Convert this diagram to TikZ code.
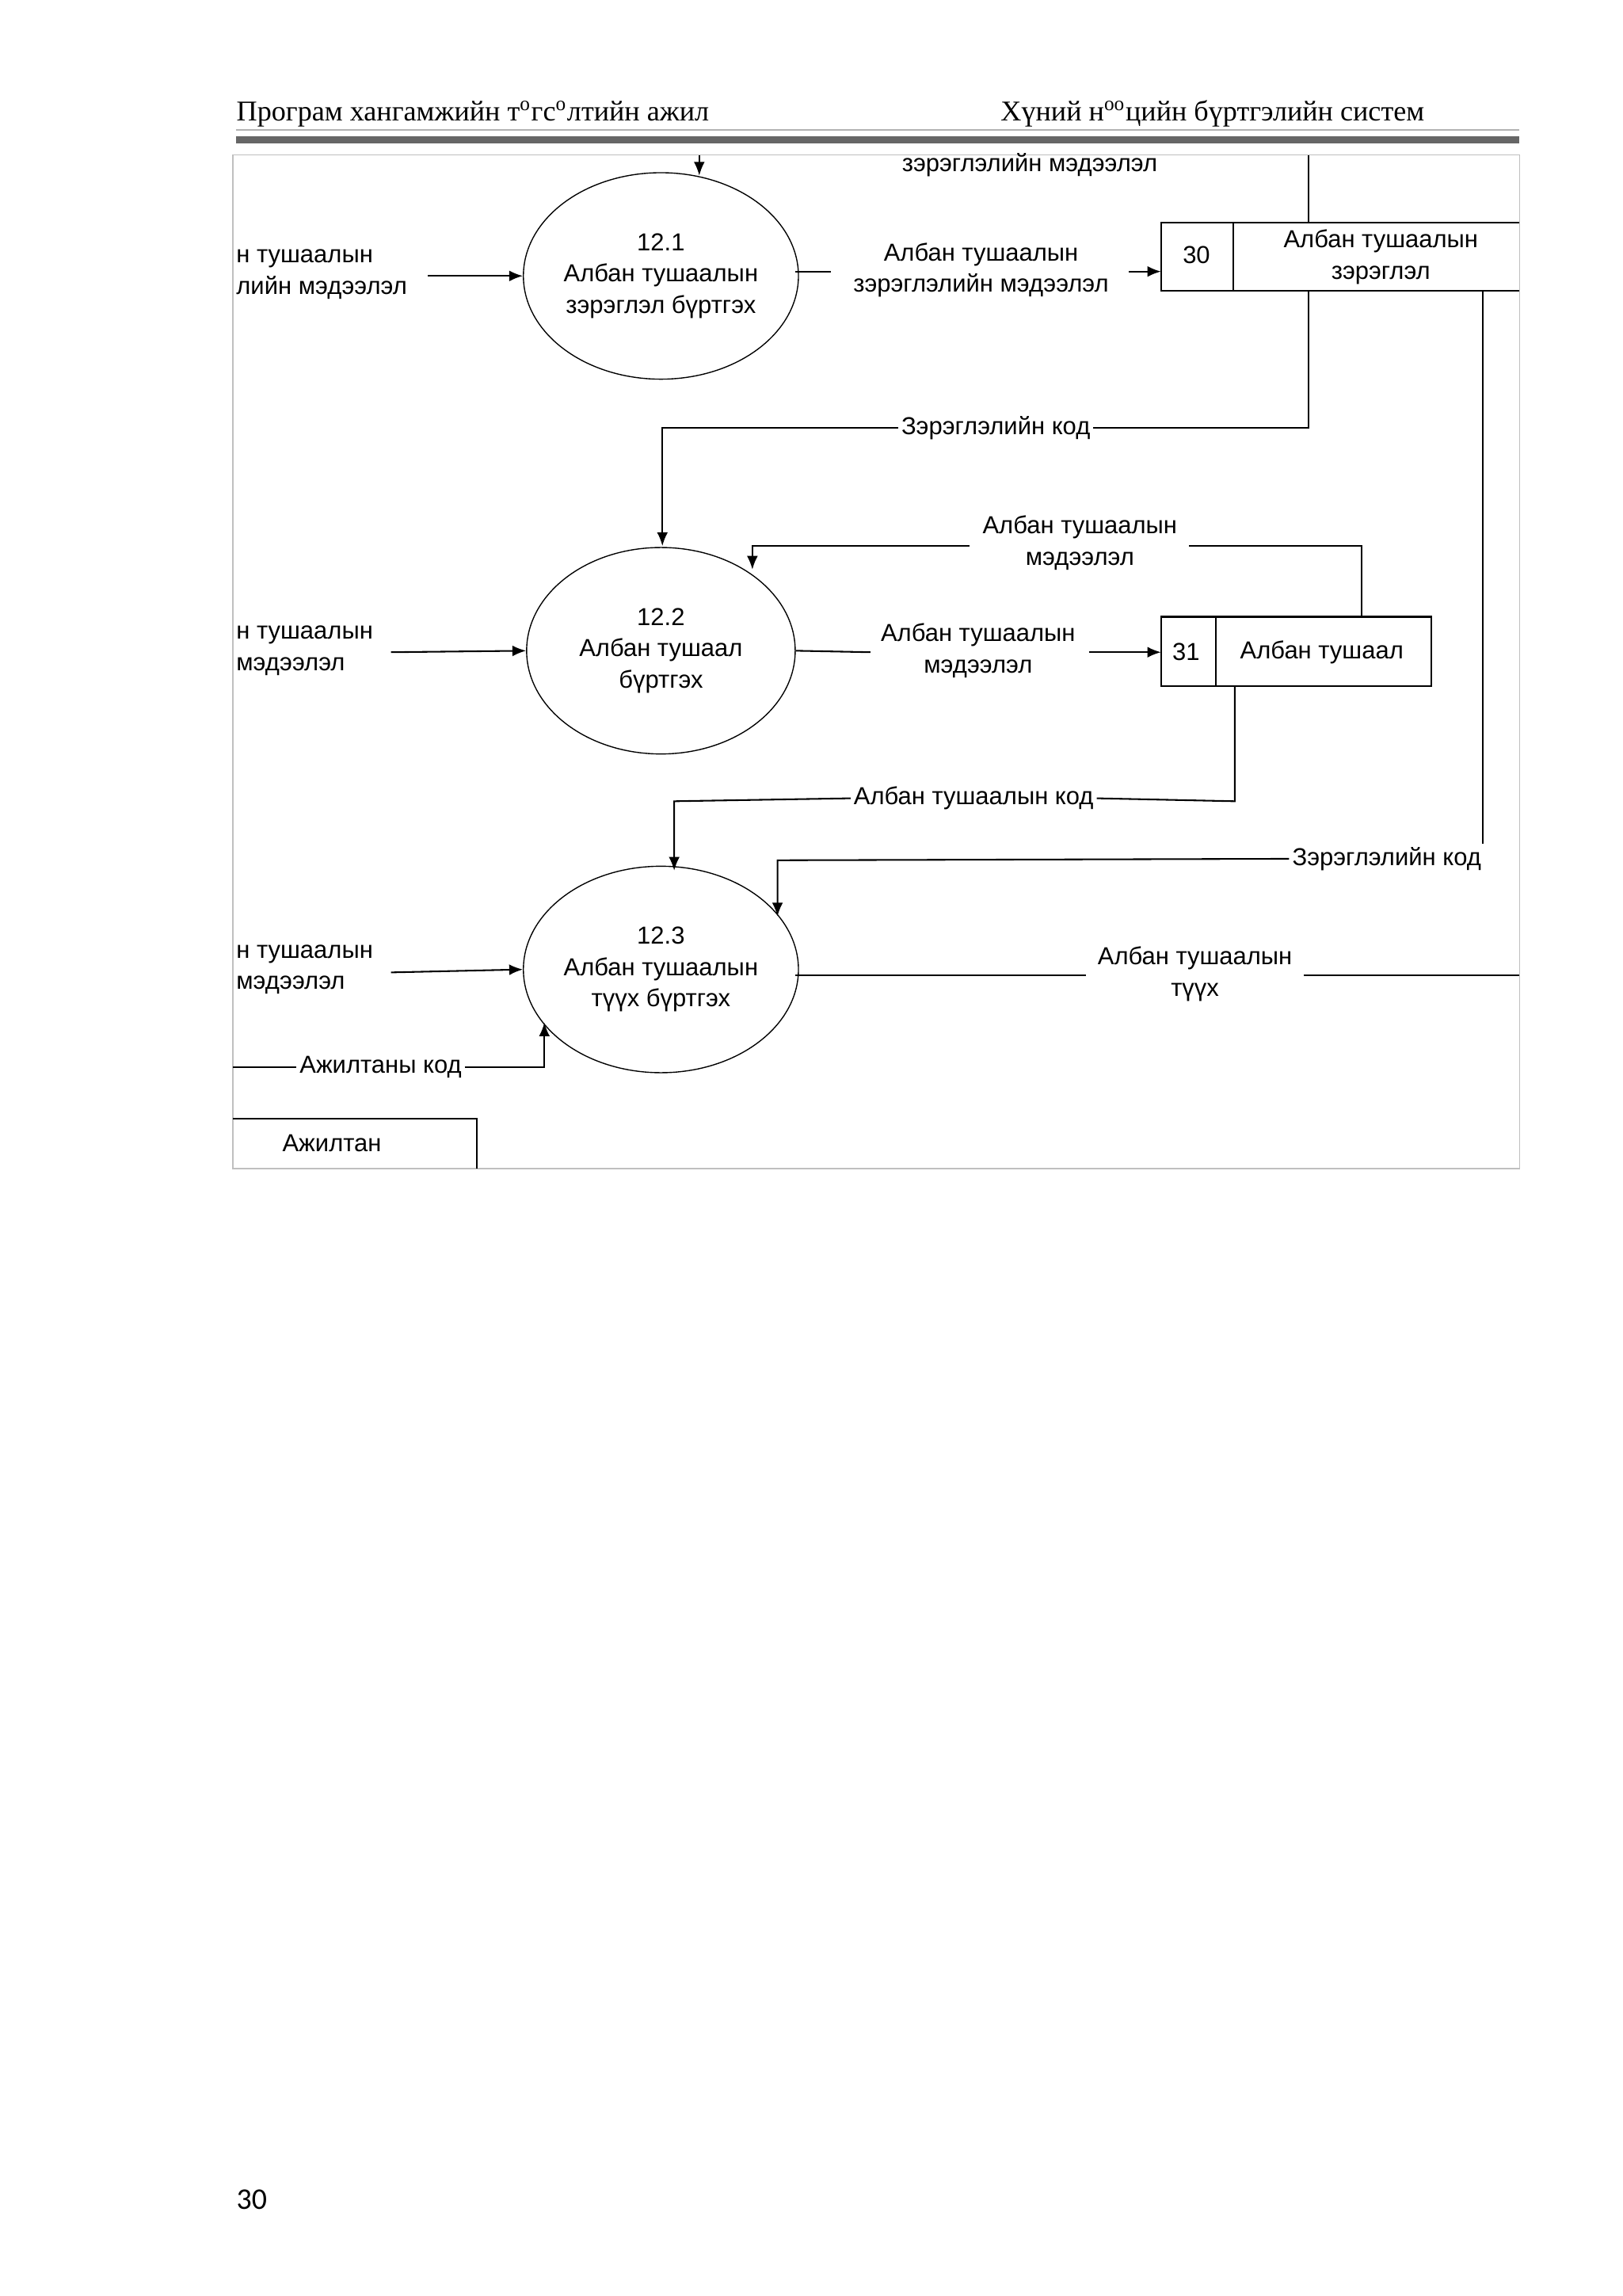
\documentclass[tikz,border=0pt]{standalone}
\usepackage{fontspec}
\setmainfont{Liberation Serif}
\newfontfamily\dsans{Liberation Sans}
\newfontfamily\pnum{Carlito}
\usetikzlibrary{arrows.meta,shapes.geometric}
\begin{document}
\begin{tikzpicture}[x=0.541pt,y=-0.541pt,
  proc/.style={draw,ellipse,minimum width=98.5pt,minimum height=75.7pt,inner sep=0pt,align=center,font=\dsans\fontsize{9}{11.5}\selectfont},
  lbl/.style={font=\dsans\fontsize{9}{11.5}\selectfont,align=center,inner sep=1pt},
  flow/.style={-{Latex[length=5pt,width=4pt]},line width=0.6pt},
  ln/.style={line width=0.6pt}]
\useasboundingbox[fill=white] (0,0) rectangle (1100,1556);
% header
\node[anchor=base west,font=\fontsize{10.5}{12}\selectfont,inner sep=0] (h1) at (160,82) {Програм хангамжийн т\textsuperscript{o}гс\textsuperscript{o}лтийн ажил};
\node[anchor=base west,font=\fontsize{10.5}{12}\selectfont,inner sep=0] (h2) at (678,82) {Хүний н\textsuperscript{oo}цийн бүртгэлийн систем};
\draw[gray!60,line width=0.4pt] (160,88) -- (1030,88);
\draw[gray!80!black,line width=2.6pt] (160,95) -- (1030,95);
% frame
\draw[gray!50,line width=0.5pt] (158,105) rectangle (1030,792);
% processes
\node[proc] (p1) at (448,187) {12.1\\Албан тушаалын\\зэрэглэл бүртгэх};
\node[proc] (p2) at (448,441) {12.2\\Албан тушаал\\бүртгэх};
\node[proc] (p3) at (448,657) {12.3\\Албан тушаалын\\түүх бүртгэх};
% stores
\draw[ln] (1030,151) -- (787,151) -- (787,197) -- (1030,197);
\draw[ln] (836,151) -- (836,197);
\node[lbl] (s30n) at (811,173) {30};
\node[lbl] (s30) at (936,174) {Албан тушаалын\\зэрэглэл};
\draw[ln] (787,418) rectangle (970,465);
\draw[ln] (824,418) -- (824,465);
\node[lbl] (s31n) at (804,442) {31};
\node[lbl] (s31) at (896,442) {Албан тушаал};
\draw[ln] (158,758) -- (323,758) -- (323,792);
\node[lbl] (ew) at (225,775) {Ажилтан};
% top
\coordinate (t0) at (474,105);
\draw[flow] (t0) -- (474,119);
\node[lbl] (tl) at (698,112) {зэрэглэлийн мэдээлэл};
\draw[ln] (887,105) -- (887,151);
% p1 in
\node[lbl,anchor=west,align=left] (in1) at (158,186) {н тушаалын\\лийн мэдээлэл};
\coordinate (a1) at (290,187);
\draw[flow] (a1) -- (p1.west);
% p1 out
\node[lbl] (o1) at (665,183) {Албан тушаалын\\зэрэглэлийн мэдээлэл};
\draw[ln] (539,184) -- (563,184);
\draw[flow] (765,184) -- (787,184);
% zereglel kod 1
\node[lbl] (zk1) at (675,290) {Зэрэглэлийн код};
\draw[ln] (887,197) -- (887,290) -- (zk1.east);
\draw[flow] (zk1.west) -- (449,290) -- (449,370);
% zereglel kod 2
\node[lbl] (zk2) at (940,582) {Зэрэглэлийн код};
\draw[ln] (1005,197) -- (1005,572);
\draw[flow] (zk2.west) -- (527,583) -- (527,621);
% p2 in
\node[lbl,anchor=west,align=left] (in2) at (158,441) {н тушаалын\\мэдээлэл};
\draw[flow] (265,442) -- (p2.west);
% p2 out
\node[lbl] (o2) at (663,441) {Албан тушаалын\\мэдээлэл};
\draw[ln] (p2.east) -- (590,442);
\draw[flow] (738,442) -- (787,442);
% s31 top
\node[lbl] (m2) at (732,368) {Албан тушаалын\\мэдээлэл};
\draw[ln] (923,418) -- (923,370) -- (806,370);
\draw[flow] (657,370) -- (510,370) -- (510,386);
% s31 bottom
\node[lbl] (ak) at (660,541) {Албан тушаалын код};
\draw[ln] (837,465) -- (837,543) -- (ak.east);
\draw[flow] (ak.west) -- (457,543) -- (457,590);
% p3 in
\node[lbl,anchor=west,align=left] (in3) at (158,657) {н тушаалын\\мэдээлэл};
\draw[flow] (265,659) -- (p3.west);
% p3 out
\node[lbl] (o3) at (810,660) {Албан тушаалын\\түүх};
\draw[ln] (539,661) -- (736,661);
\draw[ln] (884,661) -- (1030,661);
% ajiltan kod
\node[lbl] (ajk) at (258,723) {Ажилтаны код};
\draw[ln] (158,723) -- (ajk.west);
\draw[flow] (ajk.east) -- (369,723) -- (369,693);
% page number
\node[anchor=base west,font=\pnum\fontsize{11}{13}\selectfont,inner sep=0] (pn) at (160,1497) {30};
\end{tikzpicture}
\end{document}
